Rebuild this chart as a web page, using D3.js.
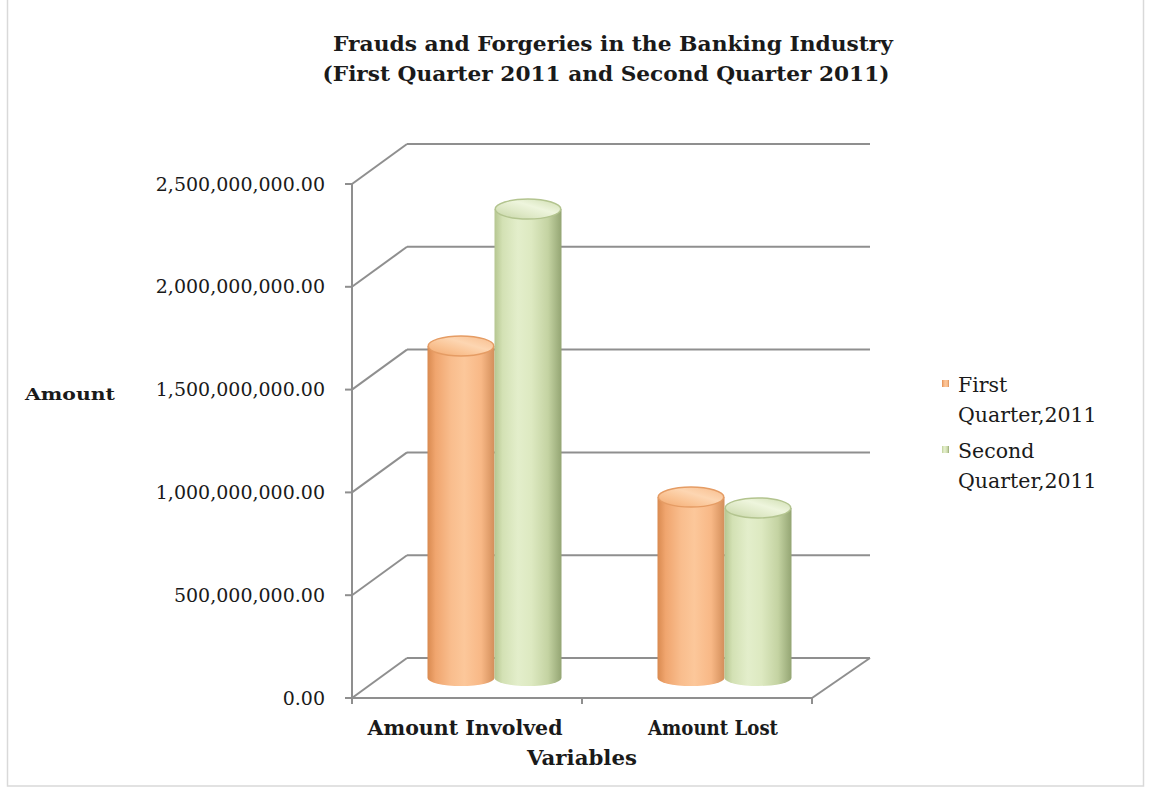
<!DOCTYPE html>
<html>
<head>
<meta charset="utf-8">
<script src="https://cdn.jsdelivr.net/npm/d3@7"></script>
<style>
  html, body { margin: 0; padding: 0; background: #ffffff; }
  svg { display: block; }
  text { font-family: "DejaVu Serif", "Liberation Serif", serif; fill: #1a1a1a; }
</style>
</head>
<body>
<svg id="chart" width="1149" height="787"></svg>
<script>
// Frauds and forgeries in the banking industry, Q1 vs Q2 2011
const categories = ["Amount Involved", "Amount Lost"];
const seriesNames = ["First Quarter,2011", "Second Quarter,2011"];
const firstQuarter = [1615000000, 880000000];
const secondQuarter = [2281000000, 827000000];
const yTickValues = [0, 500000000, 1000000000, 1500000000, 2000000000, 2500000000];
const titleLines = ["Frauds and Forgeries in the Banking Industry", "(First Quarter 2011 and Second Quarter 2011)"];
const yAxisTitle = "Amount";
const xAxisTitle = "Variables";

const series = [
  { name: seriesNames[0], values: firstQuarter, key: "q1" },
  { name: seriesNames[1], values: secondQuarter, key: "q2" }
];

const svg = d3.select("#chart");

// outer frame
svg.append("rect")
  .attr("x", 7.5).attr("y", -5).attr("width", 1136).attr("height", 791)
  .attr("fill", "none").attr("stroke", "#d9d9d9").attr("stroke-width", 1.5);

// 3-D plot box: front plane and a depth offset to the back wall
const left = 352, right = 812;
const depth = { dx: 55, dy: -40 };
const y = d3.scaleLinear().domain([0, 2500000000]).range([698, 184]);
const x = d3.scaleBand().domain(categories).range([left, right]);
const barW = 67;
const xSub = d3.scaleBand().domain(seriesNames)
  .range([x.bandwidth() / 2 - barW, x.bandwidth() / 2 + barW]);

const gridColor = "#8f8f8f";
const grid = svg.append("g").attr("stroke", gridColor).attr("stroke-width", 2).attr("fill", "none");

// back wall gridlines plus the diagonal side-wall lines
yTickValues.forEach(v => {
  const yf = y(v), yb = y(v) + depth.dy;
  grid.append("line")
    .attr("x1", left + depth.dx).attr("y1", yb)
    .attr("x2", right + depth.dx + 3).attr("y2", yb);
  grid.append("line")
    .attr("x1", left).attr("y1", yf)
    .attr("x2", left + depth.dx).attr("y2", yb);
});
// floor right edge
grid.append("line")
  .attr("x1", right).attr("y1", y(0))
  .attr("x2", right + depth.dx + 3).attr("y2", y(0) + depth.dy);

// gradients for the cylinders
const defs = svg.append("defs");
const palettes = {
  q1: { body: ["#d98a50", "#f0a56e", "#f9bd8d", "#fcc79a", "#f8b886", "#d38e5a"],
        top: ["#f2a86f", "#fac495", "#fdd6b2", "#f7bb8a"], rim: "#e59c64" },
  q2: { body: ["#b5c690", "#d3e1b4", "#e3eecb", "#dde9c1", "#c4d3a2", "#94a573"],
        top: ["#c4d4a3", "#dfe9c7", "#eef5dd", "#cddcae"], rim: "#b3c48f" }
};
Object.entries(palettes).forEach(([k, p]) => {
  const gb = defs.append("linearGradient").attr("id", "body-" + k)
    .attr("x1", "0%").attr("x2", "100%").attr("y1", "0%").attr("y2", "0%");
  [0, 0.12, 0.35, 0.55, 0.8, 1].forEach((o, i) =>
    gb.append("stop").attr("offset", o).attr("stop-color", p.body[i]));
  const gt = defs.append("linearGradient").attr("id", "top-" + k)
    .attr("x1", "0%").attr("x2", "100%").attr("y1", "100%").attr("y2", "0%");
  [0, 0.35, 0.6, 1].forEach((o, i) =>
    gt.append("stop").attr("offset", o).attr("stop-color", p.top[i]));
});

// cylinders
const ry = 8;
const bars = svg.append("g");
categories.forEach((cat, ci) => {
  series.forEach(s => {
    const v = s.values[ci];
    const cx = x(cat) + xSub(s.name) + barW / 2 + depth.dx / 2;
    const base = y(0) + depth.dy / 2;
    const top = y(v) + depth.dy / 2;
    const rx = barW / 2;
    const p = palettes[s.key];
    bars.append("path")
      .attr("d", `M${cx - rx},${top} L${cx - rx},${base} A${rx},${ry} 0 0 0 ${cx + rx},${base} L${cx + rx},${top} Z`)
      .attr("fill", `url(#body-${s.key})`);
    bars.append("ellipse")
      .attr("cx", cx).attr("cy", top).attr("rx", rx - 0.75).attr("ry", ry + 2)
      .attr("fill", `url(#top-${s.key})`)
      .attr("stroke", p.rim).attr("stroke-width", 1.5);
  });
});

// front vertical axis with ticks
const axisG = svg.append("g").attr("stroke", gridColor).attr("stroke-width", 2);
axisG.append("line").attr("x1", left).attr("y1", y(2500000000)).attr("x2", left).attr("y2", y(0) + 1);
yTickValues.forEach(v => {
  axisG.append("line").attr("x1", left - 7).attr("y1", y(v)).attr("x2", left).attr("y2", y(v));
});
// front floor edge with category separators
axisG.append("line").attr("x1", left - 7).attr("y1", y(0)).attr("x2", right).attr("y2", y(0));
[left, x(categories[1]), right].forEach(px => {
  axisG.append("line").attr("x1", px).attr("y1", y(0)).attr("x2", px).attr("y2", y(0) + 6);
});

// y tick labels
const fmt = d3.format(",.2f");
svg.append("g").selectAll("text").data(yTickValues).join("text")
  .attr("x", 325).attr("y", d => y(d) + 6.5)
  .attr("text-anchor", "end")
  .style("font-size", "19px")
  .text(d => fmt(d));

// category labels
const catOffsets = [-2, 16];
const catWidths = [195, 130];
svg.append("g").selectAll("text").data(categories).join("text")
  .attr("x", (d, i) => x(d) + x.bandwidth() / 2 + catOffsets[i])
  .attr("y", 735)
  .attr("text-anchor", "middle")
  .style("font-size", "20px").style("font-weight", "bold")
  .attr("textLength", (d, i) => catWidths[i]).attr("lengthAdjust", "spacingAndGlyphs")
  .text(d => d);

// axis titles
svg.append("text").attr("x", (left + right) / 2).attr("y", 765)
  .attr("text-anchor", "middle")
  .style("font-size", "20px").style("font-weight", "bold")
  .attr("textLength", 110).attr("lengthAdjust", "spacingAndGlyphs")
  .text(xAxisTitle);
svg.append("text").attr("x", 25).attr("y", 400)
  .style("font-size", "16.5px").style("font-weight", "bold")
  .attr("textLength", 90).attr("lengthAdjust", "spacingAndGlyphs")
  .text(yAxisTitle);

// title
const titleWidths = [560, 567];
svg.append("g").selectAll("text").data(titleLines).join("text")
  .attr("x", (d, i) => [613, 606][i]).attr("y", (d, i) => 51 + i * 30)
  .attr("text-anchor", "middle")
  .style("font-size", "21px").style("font-weight", "bold")
  .attr("textLength", (d, i) => titleWidths[i]).attr("lengthAdjust", "spacingAndGlyphs")
  .text(d => d);

// legend
const legend = svg.append("g");
const legendTop = [392, 458];
series.forEach((s, i) => {
  const lines = s.name.split(" ");
  legend.append("rect")
    .attr("x", 942).attr("y", legendTop[i] - 12).attr("width", 7).attr("height", 7)
    .attr("fill", `url(#body-${s.key})`);
  lines.forEach((ln, j) => {
    legend.append("text")
      .attr("x", 958).attr("y", legendTop[i] + j * 30)
      .style("font-size", "20.5px")
      .text(ln);
  });
});
</script>
</body>
</html>
